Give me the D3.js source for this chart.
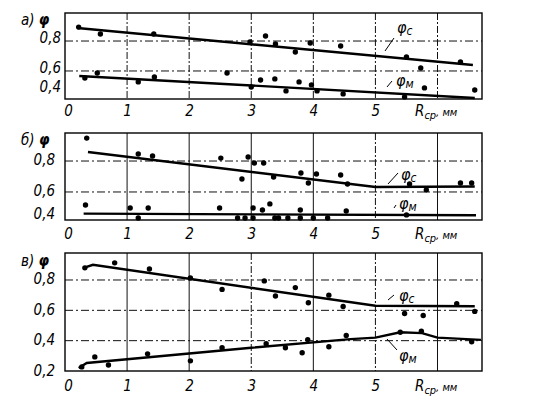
<!DOCTYPE html>
<html><head><meta charset="utf-8">
<script src="https://cdn.jsdelivr.net/npm/d3@7/dist/d3.min.js"></script>
<style>body{margin:0;background:#fff}svg{display:block}</style>
</head><body>
<svg id="chart" width="559" height="420"></svg>
<script>
// ---------- data ----------
const xTicks = [0, 1, 2, 3, 4, 5];
const xTickLabels = ["0", "1", "2", "3", "4", "5"];
const xGrid = [1, 2, 3, 4, 5, 6];
const xAxisTitle = ["R", "ср", ", мм"];
const panelLetters = ["а)", "б)", "в)"];
const seriesNames = ["с", "м"];

// panel а
const aYTicks = [0.8, 0.6, 0.4];
const aYTickLabels = ["0,8", "0,6", "0,4"];
const aYGrid = [0.8, 0.6];
const aPhiCx = [0.22, 0.57, 1.43, 2.98, 3.23, 3.39, 3.71, 3.95, 4.44, 5.5, 5.73, 6.37];
const aPhiCy = [0.893, 0.847, 0.847, 0.793, 0.833, 0.78, 0.727, 0.787, 0.767, 0.693, 0.62, 0.66];
const aPhiMx = [0.32, 0.52, 1.18, 1.44, 2.61, 3.0, 3.15, 3.38, 3.56, 3.77, 3.97, 4.06, 4.48, 5.47, 5.79, 6.6];
const aPhiMy = [0.553, 0.587, 0.527, 0.56, 0.587, 0.493, 0.54, 0.547, 0.467, 0.527, 0.507, 0.467, 0.447, 0.427, 0.487, 0.473];
const aLineCx = [0.2, 6.57];
const aLineCy = [0.887, 0.64];
const aLineMx = [0.23, 6.6];
const aLineMy = [0.567, 0.42];

// panel б
const bYTicks = [0.8, 0.6, 0.4];
const bYTickLabels = ["0,8", "0,6", "0,4"];
const bYGrid = [0.8, 0.6];
const bPhiCx = [0.35, 1.18, 1.41, 2.51, 2.95, 2.85, 3.05, 3.2, 3.36, 3.8, 3.92, 4.05, 4.44, 4.55, 5.55, 5.82, 6.37, 6.55];
const bPhiCy = [0.948, 0.845, 0.832, 0.819, 0.826, 0.684, 0.787, 0.787, 0.697, 0.723, 0.658, 0.716, 0.71, 0.652, 0.652, 0.613, 0.658, 0.658];
const bPhiMx = [0.33, 1.05, 1.18, 1.34, 2.49, 2.78, 2.9, 3.03, 3.03, 3.18, 3.3, 3.38, 3.44, 3.59, 3.79, 4.0, 4.23, 3.79, 4.53, 5.5];
const bPhiMy = [0.516, 0.497, 0.432, 0.497, 0.497, 0.432, 0.432, 0.432, 0.497, 0.484, 0.523, 0.432, 0.432, 0.432, 0.432, 0.432, 0.432, 0.484, 0.477, 0.452];
const bLineCx = [0.37, 5.0, 6.6];
const bLineCy = [0.858, 0.632, 0.635];
const bLineMx = [0.3, 6.62];
const bLineMy = [0.46, 0.45];

// panel в
const cYTicks = [0.8, 0.6, 0.4, 0.2];
const cYTickLabels = ["0,8", "0,6", "0,4", "0,2"];
const cYGrid = [0.8, 0.6, 0.4];
const cPhiCx = [0.32, 0.8, 1.36, 2.02, 2.53, 3.21, 3.39, 3.71, 3.92, 4.25, 4.48, 5.47, 5.77, 6.31, 6.6];
const cPhiCy = [0.88, 0.913, 0.873, 0.813, 0.738, 0.794, 0.694, 0.75, 0.65, 0.7, 0.625, 0.579, 0.566, 0.644, 0.593];
const cPhiMx = [0.27, 0.48, 0.7, 1.33, 2.02, 2.53, 3.24, 3.55, 3.82, 3.91, 4.25, 4.53, 5.4, 5.74, 6.55];
const cPhiMy = [0.227, 0.293, 0.24, 0.313, 0.267, 0.353, 0.38, 0.353, 0.32, 0.407, 0.36, 0.434, 0.455, 0.462, 0.393];
const cLineCx = [0.3, 0.45, 5.0, 6.6];
const cLineCy = [0.88, 0.9, 0.63, 0.627];
const cLineMx = [0.22, 0.35, 3.0, 4.6, 5.0, 5.4, 5.75, 6.0, 6.7];
const cLineMy = [0.22, 0.253, 0.353, 0.41, 0.42, 0.455, 0.45, 0.42, 0.405];

// ---------- layout ----------
const FONT = "'Liberation Sans Narrow','DejaVu Sans Condensed','Liberation Sans',sans-serif";
const X0 = 65, X6 = 437.5, XR = 482;
const xScale = d3.scaleLinear().domain([0, 6]).range([X0, X6]);

const panels = [
  {letter: panelLetters[0], top: 13, bottom: 99, yDom: [0.413, 0.987], yTicks: aYTicks, yLabels: aYTickLabels, yGrid: aYGrid,
   pts: [[aPhiCx, aPhiCy], [aPhiMx, aPhiMy]], lines: [[aLineCx, aLineCy], [aLineMx, aLineMy]],
   upShift: -3, lowShift: -12, labelPad: 4, xLabY: 111, titleY: 25,
   cLab: {x: 397, y: 33, l: [[385, 51], [394, 38]]}, mLab: {x: 396, y: 86, l: [[387, 87], [392, 81]]}},
  {letter: panelLetters[1], top: 133, bottom: 220, yDom: [0.419, 0.981], yTicks: bYTicks, yLabels: bYTickLabels, yGrid: bYGrid,
   pts: [[bPhiCx, bPhiCy], [bPhiMx, bPhiMy]], lines: [[bLineCx, bLineCy], [bLineMx, bLineMy]],
   upShift: -1, lowShift: -6, labelPad: 10, xLabY: 234, titleY: 145,
   cLab: {x: 401, y: 180, l: [[388, 184], [398, 173]]}, mLab: {x: 399, y: 209, l: [[394, 208], [396, 205]]}},
  {letter: panelLetters[2], top: 253, bottom: 371, yDom: [0.2, 0.978], yTicks: cYTicks, yLabels: cYTickLabels, yGrid: cYGrid,
   pts: [[cPhiCx, cPhiCy], [cPhiMx, cPhiMy]], lines: [[cLineCx, cLineCy], [cLineMx, cLineMy]],
   upShift: -1, lowShift: 0, labelPad: 10, xLabY: 386, titleY: 266,
   cLab: {x: 399, y: 301, l: [[388, 300], [394, 295]]}, mLab: {x: 399, y: 361, l: [[387, 339], [397, 350]]}}
];

const svg = d3.select("#chart");
svg.append("rect").attr("width", 559).attr("height", 420).attr("fill", "#fff");

panels.forEach((p, pi) => {
  const y = d3.scaleLinear().domain(p.yDom).range([p.bottom, p.top]);
  const g = svg.append("g");

  // grid
  g.selectAll(".vg").data(xGrid).enter().append("line")
    .attr("x1", d => xScale(d)).attr("x2", d => xScale(d))
    .attr("y1", p.top).attr("y2", p.bottom)
    .attr("stroke", "#111").attr("stroke-width", 1)
    .attr("stroke-dasharray", (d) => (pi === 0 || d === 5 || (pi === 2 && d === 3)) ? "7,2,2,2" : null);
  g.selectAll(".hg").data(p.yGrid).enter().append("line")
    .attr("x1", X0).attr("x2", XR)
    .attr("y1", d => y(d)).attr("y2", d => y(d))
    .attr("stroke", "#111").attr("stroke-width", 1)
    .attr("stroke-dasharray", "8,3,2,3");

  // frame
  g.append("rect").attr("x", X0).attr("y", p.top).attr("width", XR - X0).attr("height", p.bottom - p.top)
    .attr("fill", "none").attr("stroke", "#000").attr("stroke-width", 1.4);

  // fitted lines
  const lineGen = d3.line().x(d => xScale(d[0])).y(d => y(d[1]));
  p.lines.forEach(([lx, ly]) => {
    g.append("path").datum(lx.map((v, i) => [v, ly[i]]))
      .attr("d", lineGen).attr("fill", "none").attr("stroke", "#000").attr("stroke-width", 2.4);
  });

  // points
  p.pts.forEach(([px, py]) => {
    g.selectAll(null).data(px.map((v, i) => [v, py[i]])).enter().append("circle")
      .attr("cx", d => xScale(d[0])).attr("cy", d => y(d[1])).attr("r", 2.7).attr("fill", "#000");
  });

  // y axis
  const yAxis = d3.axisLeft(y).tickValues(p.yTicks).tickSize(0).tickPadding(p.labelPad)
    .tickFormat((d, i) => p.yLabels[i]);
  const ya = g.append("g").attr("transform", `translate(${X0},0)`).call(yAxis);
  ya.select(".domain").remove();
  ya.selectAll("text").attr("font-family", FONT).attr("font-style", "italic").attr("font-size", 15).attr("fill", "#000")
    .attr("transform", (d) => {
      const yy = y(d);
      let shift = p.upShift;
      if (yy > p.bottom - 2) shift = (p.bottom - yy) + p.lowShift;
      return `translate(0,${shift})`;
    });

  // x axis
  const xAxis = d3.axisBottom(xScale).tickValues(xTicks).tickSize(0).tickPadding(0)
    .tickFormat((d, i) => xTickLabels[i]);
  const xa = g.append("g").attr("transform", `translate(0,${p.xLabY})`).call(xAxis);
  xa.select(".domain").remove();
  xa.selectAll("text").attr("font-family", FONT).attr("font-style", "italic").attr("font-size", 15).attr("fill", "#000")
    .attr("dy", "0.3em").attr("x", d => d === 0 ? 3 : 0);

  // x title
  const xt = g.append("text").attr("x", 415).attr("y", p.xLabY + 5)
    .attr("font-family", FONT).attr("font-style", "italic").attr("font-size", 15).attr("fill", "#000");
  xt.append("tspan").text(xAxisTitle[0]);
  xt.append("tspan").attr("dy", 3).attr("font-size", 11).text(xAxisTitle[1]);
  xt.append("tspan").attr("dy", -3).attr("font-size", 11).text(xAxisTitle[2]);

  // panel title
  const pt = g.append("text").attr("x", 21).attr("y", p.titleY)
    .attr("font-family", FONT).attr("font-style", "italic").attr("font-size", 15).attr("fill", "#000");
  pt.append("tspan").text(p.letter + " ");
  pt.append("tspan").attr("font-weight", "bold").text("φ");

  // curve labels
  [[p.cLab, seriesNames[0]], [p.mLab, seriesNames[1]]].forEach(([lab, sub]) => {
    g.append("line").attr("x1", lab.l[0][0]).attr("y1", lab.l[0][1]).attr("x2", lab.l[1][0]).attr("y2", lab.l[1][1])
      .attr("stroke", "#000").attr("stroke-width", 1);
    const t = g.append("text").attr("x", lab.x).attr("y", lab.y)
      .attr("font-family", FONT).attr("font-style", "italic").attr("font-size", 16).attr("fill", "#000");
    t.append("tspan").text("φ");
    t.append("tspan").attr("dy", 2).attr("font-size", 12).text(sub);
  });
});
</script>
</body></html>
